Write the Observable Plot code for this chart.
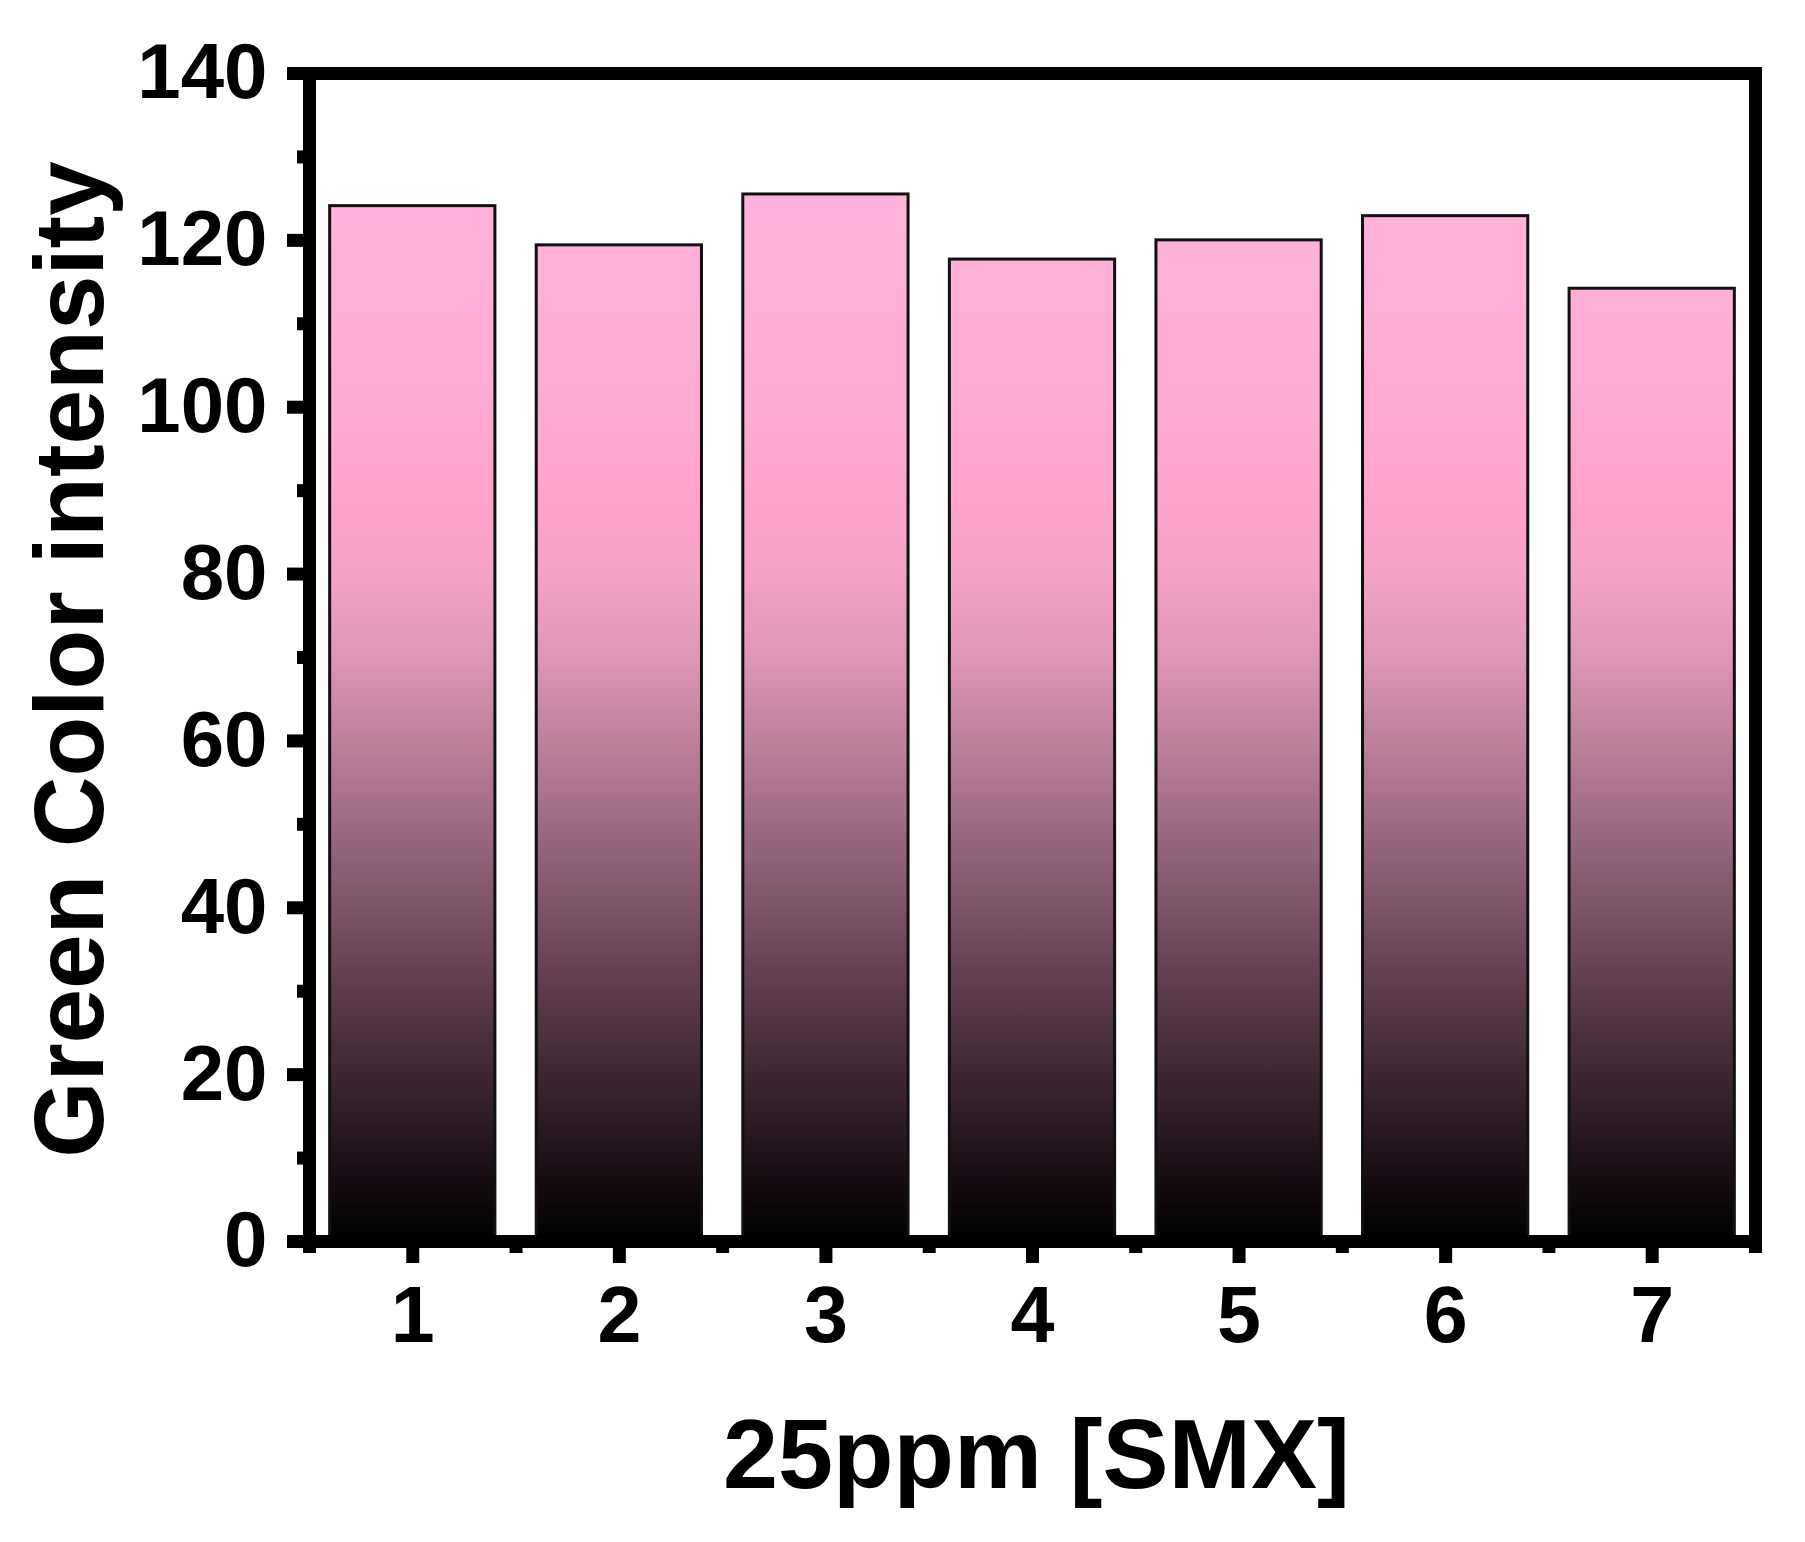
<!DOCTYPE html>
<html>
<head>
<meta charset="utf-8">
<script src="https://cdn.jsdelivr.net/npm/d3@7"></script>
<script src="https://cdn.jsdelivr.net/npm/@observablehq/plot@0.6"></script>
<style>
  html, body { margin: 0; padding: 0; background: #fff; }
  #chart svg { display: block; }
</style>
</head>
<body>
<div id="chart"></div>
<script>
// ---- data ----
const categories = [1, 2, 3, 4, 5, 6, 7];
const values = [124.1, 119.4, 125.5, 117.7, 120.0, 122.9, 114.2];
const yTicks = [0, 20, 40, 60, 80, 100, 120, 140];
const yMinorTicks = [10, 30, 50, 70, 90, 110, 130];
const xTicks = [1, 2, 3, 4, 5, 6, 7];
const xMinorTicks = [0.5, 1.5, 2.5, 3.5, 4.5, 5.5, 6.5, 7.5];
const xTitle = "25ppm [SMX]";
const yTitle = "Green Color intensity";
// gradient stops: [value on y axis, colour]
const gradStopValues = [0, 10, 20, 30, 40, 50, 60, 70, 80, 88, 100, 120, 140];
const gradStopColors = ["#000000", "#1f1119", "#3e2733", "#5c3c4c", "#7d5468", "#9d6a84", "#bd819c", "#de96b6", "#f5a2c6", "#ffa2cc", "#ffaad4", "#ffb1da", "#ffb5de"];

const barHalfWidth = 0.4;
const data = categories.map((c, i) => ({c, v: values[i]}));

const font = "'Liberation Sans', Arial, Helvetica, sans-serif";

const chart = Plot.plot({
  width: 1805,
  height: 1542,
  marginLeft: 309,
  marginRight: 50,
  marginTop: 73,
  marginBottom: 301,
  x: {domain: [0.5, 7.5]},
  y: {domain: [0, 140]},
  style: {fontFamily: font, background: "#fff", color: "#000", overflow: "visible"},
  marks: [
    Plot.rectY(data, {
      x1: d => d.c - barHalfWidth,
      x2: d => d.c + barHalfWidth,
      y: "v",
      fill: "url(#barGrad)",
      stroke: "#111",
      strokeWidth: 3
    }),
    Plot.frame({stroke: "#000", strokeWidth: 13}),
    Plot.axisY(yTicks, {
      anchor: "left", tickSize: 22, tickPadding: 20, strokeWidth: 13,
      fontSize: 78, fontWeight: "bold", label: null, tickFormat: d => String(d)
    }),
    Plot.axisY(yMinorTicks, {
      anchor: "left", tickSize: 12, strokeWidth: 13, label: null, tickFormat: () => ""
    }),
    Plot.axisX(xTicks, {
      anchor: "bottom", tickSize: 22, tickPadding: 22, strokeWidth: 13,
      fontSize: 79, fontWeight: "bold", label: null, tickFormat: d => String(d)
    }),
    Plot.axisX(xMinorTicks, {
      anchor: "bottom", tickSize: 12, strokeWidth: 13, label: null, tickFormat: () => ""
    }),
    Plot.text([yTitle], {
      frameAnchor: "left", text: d => d, rotate: -90, dx: -207, dy: 2,
      lineAnchor: "bottom", textAnchor: "middle", fontSize: 98, fontWeight: "bold", fill: "#000"
    }),
    Plot.text([xTitle], {
      frameAnchor: "bottom", text: d => d, dx: 4, dy: 246,
      lineAnchor: "bottom", textAnchor: "middle", fontSize: 99, fontWeight: "bold", fill: "#000"
    })
  ]
});

// vertical gradient in plot coordinates (shared by all bars)
const ys = chart.scale("y");
const yScale = d3.scaleLinear(ys.domain, ys.range);
const svg = d3.select(chart);
const defs = svg.insert("defs", ":first-child");
const grad = defs.append("linearGradient")
  .attr("id", "barGrad")
  .attr("gradientUnits", "userSpaceOnUse")
  .attr("x1", 0).attr("x2", 0)
  .attr("y1", yScale(0)).attr("y2", yScale(140));
gradStopValues.forEach((v, i) => {
  grad.append("stop").attr("offset", v / 140).attr("stop-color", gradStopColors[i]);
});

document.getElementById("chart").appendChild(chart);
</script>
</body>
</html>
